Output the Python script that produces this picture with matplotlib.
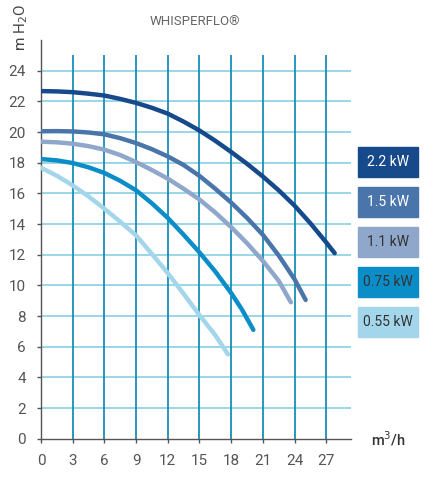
import numpy as np
import matplotlib
matplotlib.use('Agg')
import matplotlib.pyplot as plt
from matplotlib.patches import Rectangle

# pump curves: flow (m3/h) -> head (m H2O)
labels = ['2.2 kW', '1.5 kW', '1.1 kW', '0.75 kW', '0.55 kW']
colors = ['#174a8b', '#4a75ab', '#8ea7cb', '#0b8dc8', '#a3d6ea']
text_colors = ['white', 'white', '#333333', '#333333', '#333333']

q_22 = [0, 1.5, 3, 4.5, 6, 7.5, 9, 10.5, 12, 13.5, 15, 16.5, 18, 19.5, 21, 22.5, 24, 25.5, 27, 27.8]
h_22 = [22.67, 22.65, 22.6, 22.5, 22.38, 22.16, 21.9, 21.58, 21.2, 20.68, 20.1, 19.43, 18.7, 17.93,
        17.1, 16.2, 15.2, 14.05, 12.8, 12.1]

q_15 = [0, 1.5, 3, 4.5, 6, 7.5, 9, 10.5, 12, 13.5, 15, 16.5, 18, 19.5, 21, 22.5, 24, 25.05]
h_15 = [20.05, 20.06, 20.04, 19.97, 19.85, 19.6, 19.28, 18.88, 18.41, 17.85, 17.14, 16.3, 15.4,
        14.4, 13.3, 11.95, 10.4, 9.05]

q_11 = [0, 1.5, 3, 4.5, 6, 7.5, 9, 10.5, 12, 13.5, 15, 16.5, 18, 19.5, 21, 22.5, 23.65]
h_11 = [19.37, 19.33, 19.24, 19.08, 18.85, 18.5, 18.04, 17.52, 16.96, 16.3, 15.6, 14.75, 13.8,
        12.75, 11.6, 10.3, 8.9]

q_075 = [0, 1.5, 3, 4.5, 6, 7.5, 9, 10.5, 12, 13.5, 15, 16.5, 18, 19, 20.1]
h_075 = [18.24, 18.15, 17.98, 17.7, 17.33, 16.82, 16.2, 15.35, 14.4, 13.3, 12.15, 10.9, 9.5,
         8.45, 7.1]

q_055 = [0, 1.5, 3, 4.5, 6, 7.5, 9, 10.5, 12, 13.5, 15, 16.5, 17.7]
h_055 = [17.67, 17.15, 16.52, 15.8, 15.0, 14.15, 13.26, 12.05, 10.8, 9.45, 8.06, 6.75, 5.5]

curves = [(q_22, h_22), (q_15, h_15), (q_11, h_11), (q_075, h_075), (q_055, h_055)]

x_ticks = [0, 3, 6, 9, 12, 15, 18, 21, 24, 27]
y_ticks = [0, 2, 4, 6, 8, 10, 12, 14, 16, 18, 20, 22, 24]

plt.rcParams['font.family'] = ['Roboto', 'DejaVu Sans']

fig = plt.figure(figsize=(4.36, 4.8), dpi=100)
ax = fig.add_axes([0.094, 0.086, 0.710, 0.8306])
ax.set_xlim(0, 29.3)
ax.set_ylim(0, 26)

# grid
ax.hlines(y_ticks[1:], 0, 29.3, color='#7fcce2', lw=1.1, zorder=1)
ax.vlines(x_ticks[1:], 0, 25, color='#1a8cb9', lw=1.3, zorder=1)

for (q, h), c in zip(curves, colors):
    ax.plot(q, h, color=c, lw=3.2, solid_capstyle='round', zorder=3)

# axes
for s in ['top', 'right']:
    ax.spines[s].set_visible(False)
for s in ['left', 'bottom']:
    ax.spines[s].set_color('#555555')
    ax.spines[s].set_linewidth(1.0)
ax.set_xticks(x_ticks)
ax.set_yticks(y_ticks)
ax.tick_params(colors='#555555', labelcolor='#555555', labelsize=11, length=3, width=1.0, pad=8)

fig.text(0.447, 0.956, 'WHISPERFLO®', ha='center', va='center', fontsize=9.5,
         color='#666666')
fig.text(0.048, 0.943, 'm H$_2$O', rotation=90, ha='center', va='center', fontsize=11,
         color='#444444')
fig.text(0.89, 0.085, 'm$^3$/h', ha='center', va='center', fontsize=10.5, color='#333333',
         fontweight='medium')

# legend boxes
for i, (lab, c, tc) in enumerate(zip(labels, colors, text_colors)):
    top = 147 + 40 * i
    fig.patches.append(Rectangle((358 / 436, 1 - (top + 30) / 480), 60 / 436, 30 / 480,
                                 transform=fig.transFigure, color=c, zorder=0))
    fig.text(388 / 436, 1 - (top + 15) / 480, lab, ha='center', va='center',
             fontsize=10, color=tc)

plt.savefig('out.png', dpi=100)
